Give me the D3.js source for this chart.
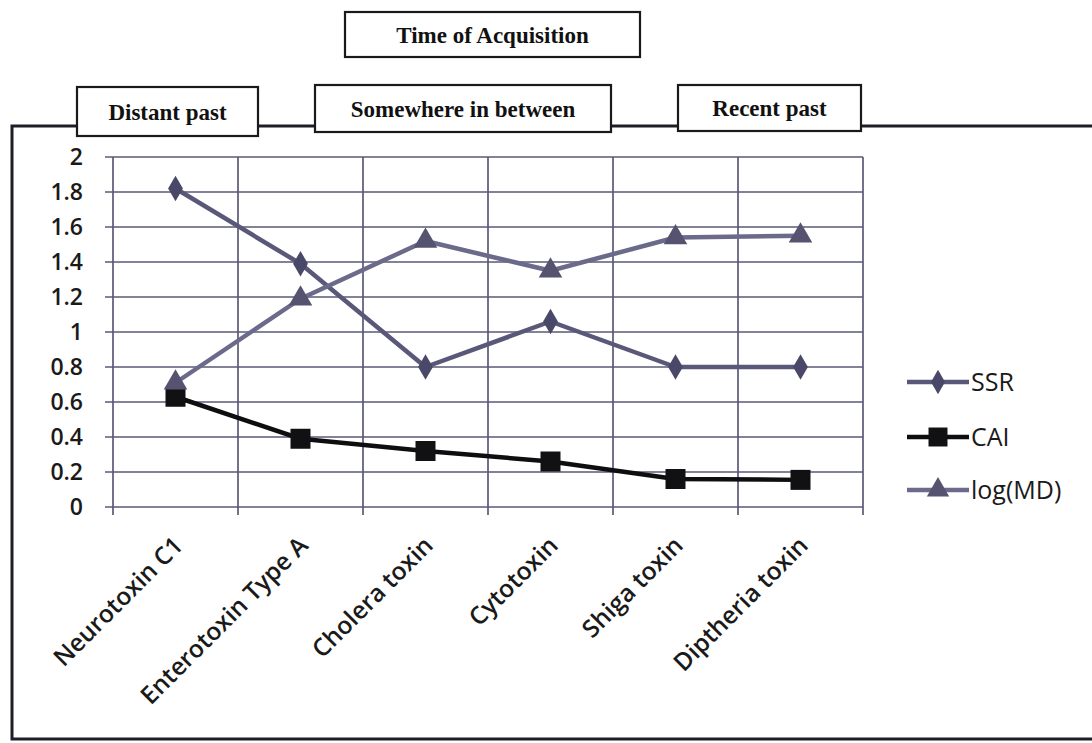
<!DOCTYPE html>
<html>
<head>
<meta charset="utf-8">
<script src="https://cdn.jsdelivr.net/npm/d3@7"></script>
<style>
  html, body { margin: 0; padding: 0; background: #fff; }
  svg { display: block; }
</style>
</head>
<body>
<svg id="chart" width="1092" height="743"></svg>
<script>
const categories = ["Neurotoxin C1", "Enterotoxin Type A", "Cholera toxin", "Cytotoxin", "Shiga toxin", "Diptheria toxin"];
const ssr   = [1.82, 1.39, 0.80, 1.06, 0.80, 0.80];
const cai   = [0.63, 0.39, 0.32, 0.26, 0.16, 0.155];
const logMD = [0.71, 1.19, 1.52, 1.35, 1.54, 1.55];
const yTicks = [0, 0.2, 0.4, 0.6, 0.8, 1, 1.2, 1.4, 1.6, 1.8, 2];
const yTickLabels = ["0", "0.2", "0.4", "0.6", "0.8", "1", "1.2", "1.4", "1.6", "1.8", "2"];
const seriesNames = ["SSR", "CAI", "log(MD)"];
const headerTitle = "Time of Acquisition";
const periodLabels = ["Distant past", "Somewhere in between", "Recent past"];

const svg = d3.select("#chart");

const x = d3.scaleBand().domain(categories).range([113, 863]).paddingInner(0).paddingOuter(0);
const y = d3.scaleLinear().domain([0, 2]).range([507, 157]);
const cx = d => x(d) + x.bandwidth() / 2;

const gridColor = "#5a5976";
const sansFont = "'Open Sans', sans-serif";

// outer frame
svg.append("rect")
  .attr("x", 12).attr("y", 126).attr("width", 1100).attr("height", 613)
  .attr("fill", "none").attr("stroke", "#1e1e28").attr("stroke-width", 3);

// horizontal grid lines (with tick stubs to the left)
svg.append("g").selectAll("line").data(yTicks).join("line")
  .attr("x1", 105).attr("x2", x.range()[1])
  .attr("y1", d => y(d)).attr("y2", d => y(d))
  .attr("stroke", gridColor).attr("stroke-width", 1.7);

// vertical grid lines at category boundaries (with tick stubs below)
const bounds = categories.map(c => x(c)).concat([x.range()[1]]);
svg.append("g").selectAll("line").data(bounds).join("line")
  .attr("x1", d => d).attr("x2", d => d)
  .attr("y1", y(2)).attr("y2", y(0) + 8)
  .attr("stroke", gridColor).attr("stroke-width", 1.7);

// y axis labels
const yAxis = d3.axisLeft(y).tickValues(yTicks)
  .tickFormat((d, i) => yTickLabels[i]).tickSize(0).tickPadding(30);
const gy = svg.append("g").attr("transform", `translate(${x.range()[0]},0)`).call(yAxis);
gy.select(".domain").remove();
gy.selectAll("text").attr("font-family", sansFont).attr("font-size", 23)
  .attr("font-weight", 600).attr("fill", "#1a1a1a");

// x axis labels (rotated)
const xAxis = d3.axisBottom(x).tickSize(0).tickPadding(0);
const gx = svg.append("g").attr("transform", `translate(0,${y(0)})`).call(xAxis);
gx.select(".domain").remove();
gx.selectAll("text")
  .attr("font-family", sansFont).attr("font-size", 24.5).attr("font-weight", 600).attr("fill", "#1a1a1a")
  .attr("text-anchor", "end")
  .attr("dy", null).attr("y", null)
  .attr("transform", "translate(9,40) rotate(-45)");

// series
const series = [
  { name: seriesNames[0], values: ssr,   color: "#5a5878", lineWidth: 4.5, marker: "diamond" },
  { name: seriesNames[1], values: cai,   color: "#0e0e10", lineWidth: 4.5, marker: "square" },
  { name: seriesNames[2], values: logMD, color: "#6c6a8a", lineWidth: 4.5, marker: "triangle" }
];
const markerFill = { diamond: "#4a4868", square: "#111114", triangle: "#55536f" };
const symbolType = { diamond: d3.symbolDiamond, square: d3.symbolSquare, triangle: d3.symbolTriangle };
const symbolSize = { diamond: 190, square: 400, triangle: 240 };

const line = d3.line().x(d => cx(d.c)).y(d => y(d.v));

series.forEach(s => {
  const pts = categories.map((c, i) => ({ c, v: s.values[i] }));
  svg.append("path").datum(pts)
    .attr("d", line).attr("fill", "none")
    .attr("stroke", s.color).attr("stroke-width", s.lineWidth)
    .attr("stroke-linejoin", "round");
  svg.append("g").selectAll("path").data(pts).join("path")
    .attr("d", d3.symbol().type(symbolType[s.marker]).size(symbolSize[s.marker]))
    .attr("transform", d => `translate(${cx(d.c)},${y(d.v)})`)
    .attr("fill", markerFill[s.marker]);
});

// legend
const legendY = [382, 437, 490];
series.forEach((s, i) => {
  const g = svg.append("g").attr("transform", `translate(907,${legendY[i]})`);
  g.append("line").attr("x1", 0).attr("x2", 62).attr("y1", 0).attr("y2", 0)
    .attr("stroke", s.color).attr("stroke-width", s.lineWidth);
  g.append("path")
    .attr("d", d3.symbol().type(symbolType[s.marker]).size(symbolSize[s.marker] * 0.9))
    .attr("transform", "translate(31,0)").attr("fill", markerFill[s.marker]);
  g.append("text").attr("x", 64).attr("y", 0).attr("dy", "0.35em")
    .attr("font-family", sansFont).attr("font-size", 25).attr("fill", "#1a1a1a")
    .text(s.name);
});

// header boxes
const boxes = [
  { text: headerTitle,     x0: 345, x1: 640, y0: 12, y1: 57 },
  { text: periodLabels[0], x0: 77,  x1: 258, y0: 87, y1: 136 },
  { text: periodLabels[1], x0: 315, x1: 611, y0: 85, y1: 132 },
  { text: periodLabels[2], x0: 678, x1: 861, y0: 85, y1: 131 }
];
boxes.forEach(b => {
  svg.append("rect").attr("x", b.x0).attr("y", b.y0)
    .attr("width", b.x1 - b.x0).attr("height", b.y1 - b.y0)
    .attr("fill", "#fff").attr("stroke", "#1a1a1a").attr("stroke-width", 2.2);
  svg.append("text").attr("x", (b.x0 + b.x1) / 2).attr("y", (b.y0 + b.y1) / 2)
    .attr("dy", "0.35em").attr("text-anchor", "middle")
    .attr("font-family", "'Liberation Serif', serif").attr("font-weight", "bold")
    .attr("font-size", 23).attr("fill", "#111")
    .text(b.text);
});
</script>
</body>
</html>
